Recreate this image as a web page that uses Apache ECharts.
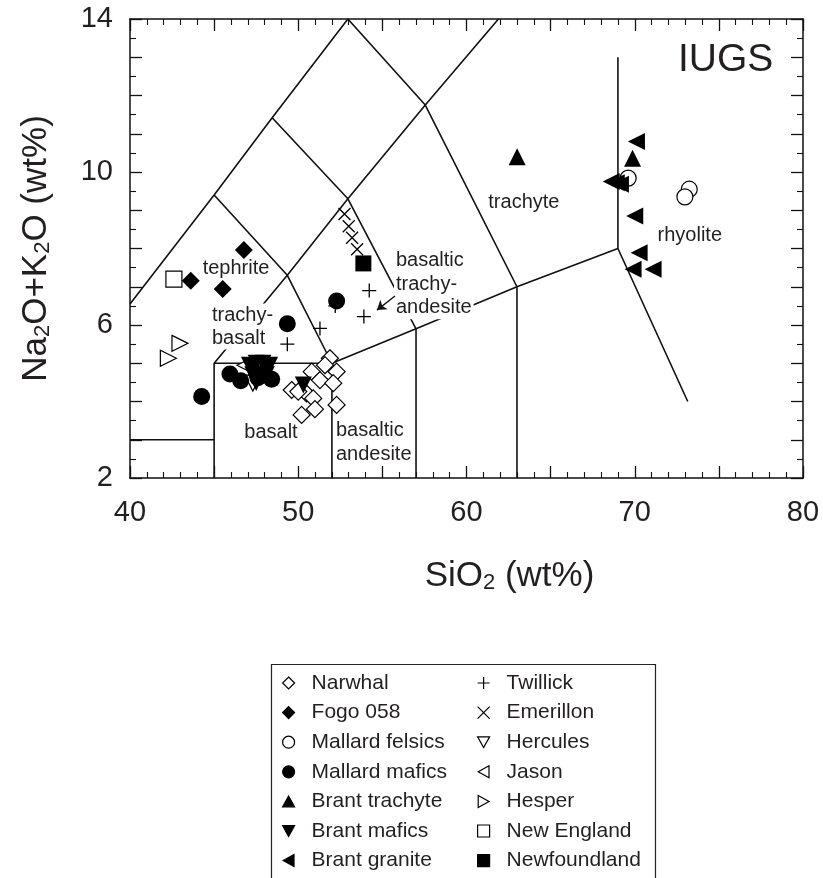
<!DOCTYPE html>
<html><head><meta charset="utf-8">
<script src="https://cdn.jsdelivr.net/npm/echarts@6/dist/echarts.min.js"></script>
<style>html,body{margin:0;padding:0;background:#fff}#c{width:823px;height:878px}</style>
</head><body><div id="c"></div>
<script>
// ---- data (SiO2 wt%, Na2O+K2O wt%) ----
const narwhal = [[51.88,5.13],[50.80,4.78],[52.28,4.78],[51.29,4.56],[52.08,4.48],[49.61,4.30],[50.49,4.21],[50.89,4.08],[50.99,3.80],[50.20,3.65],[52.28,3.91],[50.00,4.26],[51.59,4.95]];
const fogo058 = [[43.61,7.16],[46.77,7.96],[45.51,6.94]];
const mallardFelsics = [[69.61,9.84],[73.24,9.55],[72.98,9.35]];
const mallardMafics = [[44.26,4.13],[45.94,4.72],[46.58,4.54],[47.6,4.62],[48.42,4.58],[49.35,6.03],[52.28,6.63]];
const brantTrachyte = [[63.01,10.4],[69.87,10.36]];
const brantMafics = [[47.1,4.95],[47.5,5.0],[47.9,5.0],[48.3,4.95],[47.3,4.7],[47.7,4.72],[48.1,4.7],[47.5,4.5],[50.3,4.43]];
const brantGranite = [[70.1,10.8],[68.6,9.75],[68.9,9.72],[69.15,9.68],[70.0,8.85],[70.26,7.89],[69.9,7.46],[71.09,7.46]];
const twillick = [[49.35,5.5],[51.29,5.91],[52.2,6.5],[53.9,6.22],[54.22,6.9]];
const emerillon = [[52.75,8.9],[53.0,8.58],[53.2,8.28],[53.5,7.98]];
const hercules = [[47.3,4.48],[47.7,4.85]];
const jason = [[46.83,4.95]];
const hesper = [[42.97,5.52],[42.28,5.13]];
const newEngland = [[42.61,7.2]];
const newfoundland = [[53.87,7.61]];

// field boundaries of the TAS diagram
const boundaries = [
  [[40,3],[45,3]],
  [[45,2],[45,5],[52,5],[52,2]],
  [[57,2],[57,5.9]],
  [[63,2],[63,7]],
  [[52,5],[57,5.9],[63,7],[69,8]],
  [[69,13],[69,8],[73.15,4]],
  [[40,6.55],[45,9.4],[48.45,11.42],[52.95,14]],
  [[45,9.4],[49.35,7.3],[52,5]],
  [[45,5],[49.35,7.3],[52.95,9.3],[57.55,11.75],[61.9,14]],
  [[48.45,11.42],[52.95,9.3],[57,5.9]],
  [[52.95,14],[57.55,11.75],[63,7]]
];

// field names
const fieldNames = ['IUGS','trachyte','rhyolite','tephrite','trachy-\nbasalt','basaltic\ntrachy-\nandesite','basalt','basaltic\nandesite'];
const fieldAnchors = [[75.4,12.93],[63.41,9.19],[73.27,8.35],[46.3,7.49],[44.81,5.96],[55.69,7.07],[48.38,3.2],[52.24,2.92]];
const arrowFrom = [55.75,6.76];
const arrowTo = [54.68,6.39];

const xTicks = [40,50,60,70,80];
const yTicks = [2,6,10,14];

// ---- chart ----
const FONT = '"Liberation Sans", Arial, Helvetica, sans-serif';
const INK = '#231f20';
const chart = echarts.init(document.getElementById('c'), null, {renderer:'canvas'});

const P = {
  diamond: 'path://M5,0L10,5L5,10L0,5Z',
  up: 'path://M5,0L10,9L0,9Z',
  down: 'path://M0,0L10,0L5,9Z',
  left: 'path://M0,5L9,0L9,10Z',
  right: 'path://M0,0L9,5L0,10Z',
  square: 'path://M0,0L10,0L10,10L0,10Z',
  plus: 'path://M5,0L5,10M0,5L10,5',
  cross: 'path://M0,0L10,10M10,0L0,10'
};
const filled = {color:'#000', borderColor:'#000', borderWidth:0};
const hollow = {color:'#fff', borderColor:'#000', borderWidth:1.2};
const stroke = {color:'rgba(0,0,0,0)', borderColor:'#000', borderWidth:1.3};

const scatterDefs = [
  ['Narwhal', narwhal, P.diamond, 17, hollow, 4],
  ['Fogo 058', fogo058, P.diamond, 18, filled, 5],
  ['Mallard felsics', mallardFelsics, 'circle', 16, hollow, 4],
  ['Mallard mafics', mallardMafics, 'circle', 17, filled, 5],
  ['Brant trachyte', brantTrachyte, P.up, 17, filled, 5],
  ['Brant mafics', brantMafics, P.down, 17, filled, 5],
  ['Brant granite', brantGranite, P.left, 17, filled, 5],
  ['Twillick', twillick, P.plus, 14, stroke, 4],
  ['Emerillon', emerillon, P.cross, 12, stroke, 4],
  ['Hercules', hercules, P.down, 16, hollow, 4],
  ['Jason', jason, P.left, 16, hollow, 4],
  ['Hesper', hesper, P.right, 16, hollow, 4],
  ['New England', newEngland, P.square, 16, hollow, 4],
  ['Newfoundland', newfoundland, P.square, 16, filled, 5]
];

const series = [];
boundaries.forEach((seg, i) => {
  series.push({type:'line', name:'_b'+i, data:seg, showSymbol:false, symbol:'none', silent:true,
    lineStyle:{color:'#111', width:1.6}, z:1});
});
series.push({type:'lines', coordinateSystem:'cartesian2d', silent:true, z:3,
  symbol:['none','arrow'], symbolSize:9,
  lineStyle:{color:'#111', width:1.4, opacity:1},
  data:[{coords:[arrowFrom, arrowTo]}]});

const labelStyles = {
  'IUGS': {fontSize:39, align:'center'},
  'trachyte': {fontSize:20, align:'center'},
  'rhyolite': {fontSize:20, align:'center'},
  'tephrite': {fontSize:20, align:'center'},
  'trachy-\nbasalt': {fontSize:20, align:'left', lineHeight:23, backgroundColor:'#fff', padding:[0,1]},
  'basaltic\ntrachy-\nandesite': {fontSize:20, align:'left', lineHeight:23.5, backgroundColor:'#fff', padding:[0,2]},
  'basalt': {fontSize:20, align:'center'},
  'basaltic\nandesite': {fontSize:20, align:'left', lineHeight:24}
};
series.push({type:'scatter', name:'_labels', silent:true, symbolSize:0, z:2,
  itemStyle:{opacity:1},
  data: fieldNames.map((t,i) => ({value:fieldAnchors[i],
    label:Object.assign({show:true, formatter:t, position:[0,0], verticalAlign:'middle', color:INK, opacity:1, fontFamily:FONT}, labelStyles[t])}))
});

scatterDefs.forEach(([name, data, sym, size, st, z]) => {
  series.push({type:'scatter', name, data, symbol:sym, symbolSize:size, z,
    itemStyle:Object.assign({opacity:1}, st), emphasis:{disabled:true}});
});

const axisCommonX = {
  type:'value', min:40, max:80, interval:5,
  axisLine:{show:true, onZero:false, lineStyle:{color:'#111', width:1.5}},
  axisTick:{show:true, inside:true, length:12, lineStyle:{color:'#111', width:1.3}},
  minorTick:{show:true, splitNumber:5, length:6, lineStyle:{color:'#111', width:1.1}},
  splitLine:{show:false}, minorSplitLine:{show:false}
};
const axisCommonY = {
  type:'value', min:2, max:14, interval:1,
  axisLine:{show:true, onZero:false, lineStyle:{color:'#111', width:1.5}},
  axisTick:{show:true, inside:true, length:12, lineStyle:{color:'#111', width:1.3}},
  minorTick:{show:true, splitNumber:2, length:6, lineStyle:{color:'#111', width:1.1}},
  splitLine:{show:false}, minorSplitLine:{show:false}
};
const titleRich = {
  s:{fontSize:22, lineHeight:14, verticalAlign:'bottom', color:INK, fontFamily:FONT}
};

const legendCommon = {
  orient:'vertical', top:672, itemWidth:12, itemHeight:12, itemGap:7.6, padding:0,
  selectedMode:false, symbolKeepAspect:true,
  itemStyle:{borderWidth:1.2},
  textStyle:{fontSize:21, lineHeight:22, color:INK, fontFamily:FONT, padding:[0,0,0,12]}
};

chart.setOption({
  animation:false,
  backgroundColor:'#fff',
  textStyle:{fontFamily:FONT},
  grid:{left:130, top:19, width:673, height:459, outerBoundsMode:'none'},
  xAxis:[
    Object.assign({}, axisCommonX, {position:'bottom',
      axisLabel:{show:true, margin:20, fontSize:29, color:INK, fontFamily:FONT,
        formatter:v => xTicks.includes(v) ? String(v) : ''},
      name:'{a|SiO}{s|2}{a| (wt%)}', nameLocation:'middle', nameGap:76,
      nameTextStyle:{fontSize:35, lineHeight:40, color:INK, fontFamily:FONT, padding:[0,0,0,86],
        rich:Object.assign({a:{fontSize:35, lineHeight:40, verticalAlign:'bottom', color:INK, fontFamily:FONT}}, titleRich)}}),
    Object.assign({}, axisCommonX, {position:'top', axisLabel:{show:false}})
  ],
  yAxis:[
    Object.assign({}, axisCommonY, {position:'left',
      axisLabel:{show:true, margin:17, fontSize:29, color:INK, fontFamily:FONT,
        formatter:v => yTicks.includes(v) ? String(v) : ''},
      name:'{a|Na}{s|2}{a|O+K}{s|2}{a|O (wt%)}', nameLocation:'middle', nameGap:76, nameRotate:90,
      nameTextStyle:{fontSize:35, lineHeight:40, color:INK, fontFamily:FONT,
        rich:Object.assign({a:{fontSize:35, lineHeight:40, verticalAlign:'bottom', color:INK, fontFamily:FONT}}, titleRich)}}),
    Object.assign({}, axisCommonY, {position:'right', axisLabel:{show:false}})
  ],
  legend:[
    Object.assign({}, legendCommon, {left:282, data:scatterDefs.slice(0,7).map(d=>d[0])}),
    Object.assign({}, legendCommon, {left:477, data:scatterDefs.slice(7).map(d=>d[0])})
  ],
  graphic:[{type:'rect', left:269, top:662, shape:{width:384, height:240},
    style:{fill:'none', stroke:'#222', lineWidth:1.2}, silent:true}],
  series
});
</script>
</body></html>
